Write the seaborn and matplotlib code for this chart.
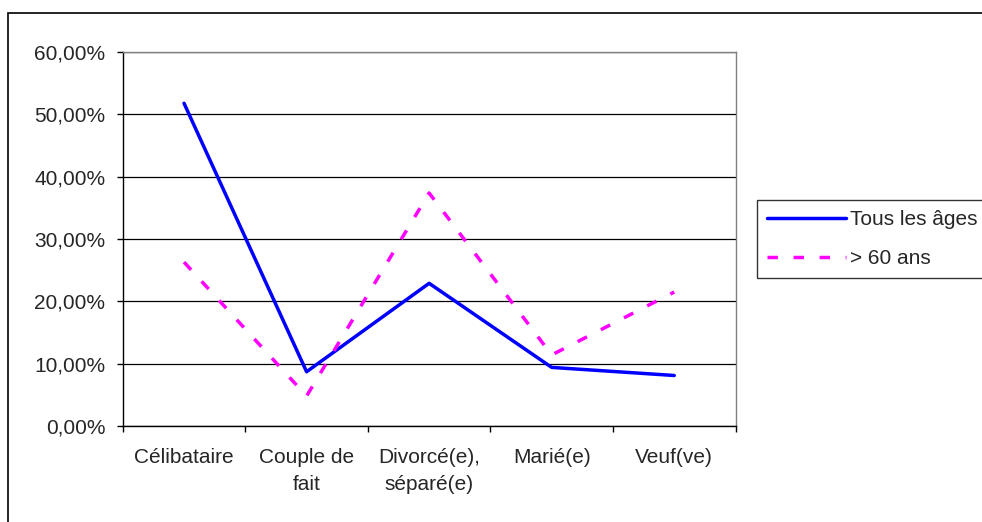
import pandas as pd
import seaborn as sns
import matplotlib.pyplot as plt
from matplotlib.ticker import FuncFormatter, FixedLocator
from matplotlib.patches import Rectangle

# data
categories = ["Célibataire", "Couple de\nfait", "Divorcé(e),\nséparé(e)", "Marié(e)", "Veuf(ve)"]
tous_ages = [0.518, 0.087, 0.229, 0.094, 0.081]
plus_60 = [0.263, 0.048, 0.374, 0.114, 0.215]

df = pd.DataFrame({
    "pos": list(range(len(categories))) * 2,
    "value": tous_ages + plus_60,
    "serie": ["Tous les âges"] * 5 + ["> 60 ans"] * 5,
})

sns.set_style("white")
plt.rcParams["font.family"] = ["Liberation Sans", "DejaVu Sans"]

fig = plt.figure(figsize=(9.82, 5.22), dpi=100)
ax = fig.add_axes([0.125, 0.184, 0.624, 0.716])

sns.lineplot(data=df, x="pos", y="value", hue="serie", style="serie",
             palette={"Tous les âges": "#0000FF", "> 60 ans": "#FF00FF"},
             dashes={"Tous les âges": "", "> 60 ans": (3, 4.5)},
             linewidth=2.5, ax=ax, legend=True)

ax.set_xlim(-0.5, 4.5)
ax.set_ylim(0, 0.6)
ax.set_yticks([0, 0.1, 0.2, 0.3, 0.4, 0.5, 0.6])
ax.yaxis.set_major_formatter(FuncFormatter(lambda v, p: f"{v*100:.2f}%".replace(".", ",")))
ax.grid(axis="y", color="black", linewidth=0.9)
ax.set_axisbelow(True)

# ticks at category boundaries, labels at centers
ax.xaxis.set_major_locator(FixedLocator([-0.5, 0.5, 1.5, 2.5, 3.5, 4.5]))
ax.xaxis.set_major_formatter(FuncFormatter(lambda v, p: ""))
ax.xaxis.set_minor_locator(FixedLocator(range(5)))
ax.set_xticklabels(categories, minor=True, linespacing=1.5)
ax.tick_params(axis="x", which="major", direction="out", length=4, width=1, color="black", bottom=True)
ax.tick_params(axis="x", which="minor", length=0, pad=16, labelsize=15)
ax.tick_params(axis="y", direction="out", length=4.5, width=1, color="black", left=True, pad=8, labelsize=15)

for s in ["left", "bottom"]:
    ax.spines[s].set_color("black")
    ax.spines[s].set_linewidth(1)
for s in ["top", "right"]:
    ax.spines[s].set_color("#808080")
    ax.spines[s].set_linewidth(1)

ax.set_xlabel("")
ax.set_ylabel("")

leg = ax.legend(loc="upper left", bbox_to_anchor=(757 / 982, 1 - 205 / 522, 0.26, 0.01),
                bbox_transform=fig.transFigure, mode="expand",
                fontsize=15, frameon=True, fancybox=False, handlelength=3.75, handletextpad=0.2,
                borderaxespad=0, borderpad=0.5, labelspacing=0.95, edgecolor="black")
leg.get_frame().set_linewidth(1)

# outer chart border (right and bottom edges fall outside the image)
fig.patches.append(Rectangle((8 / 982, -0.02), 1.0, 1 - 13 / 522 + 0.02, transform=fig.transFigure,
                             fill=False, edgecolor="black", linewidth=1.2))

fig.savefig("out.png", dpi=100)
